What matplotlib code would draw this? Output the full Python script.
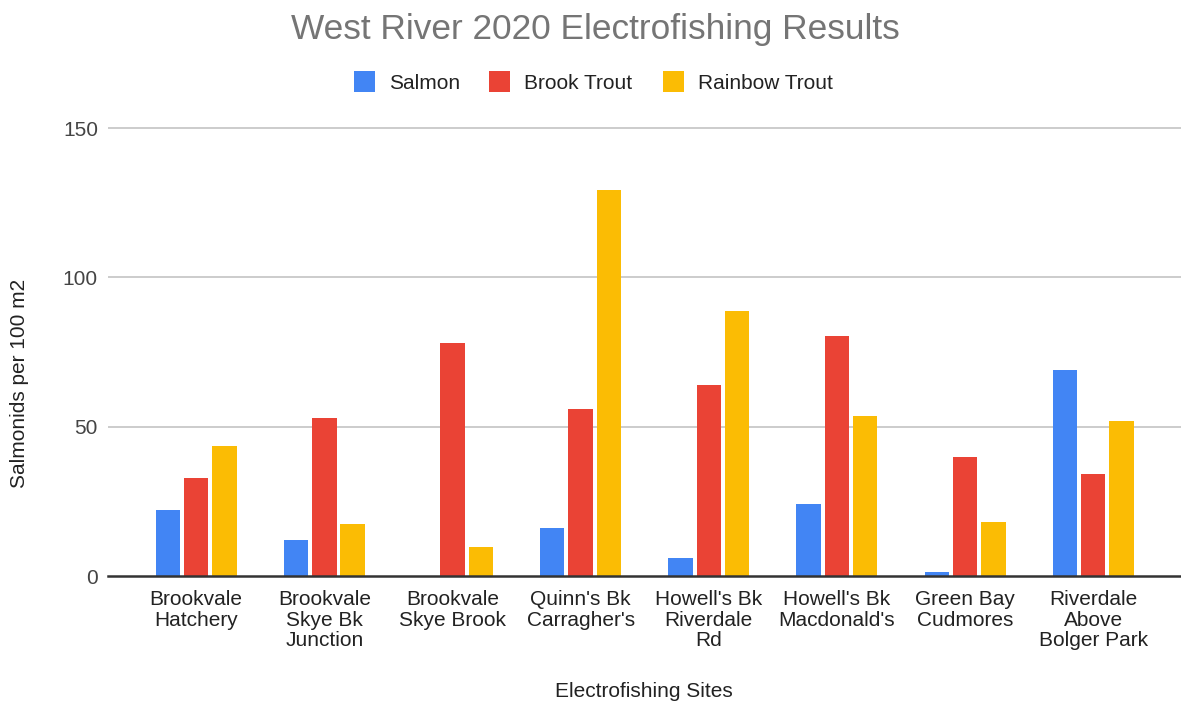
import matplotlib
matplotlib.use("Agg")
import matplotlib.pyplot as plt
import numpy as np
from matplotlib.patches import Rectangle

plt.rcParams['font.family'] = ['Liberation Sans', 'DejaVu Sans']

sites = ["Brookvale\nHatchery", "Brookvale\nSkye Bk\nJunction", "Brookvale\nSkye Brook",
         "Quinn's Bk\nCarragher's", "Howell's Bk\nRiverdale\nRd", "Howell's Bk\nMacdonald's",
         "Green Bay\nCudmores", "Riverdale\nAbove\nBolger Park"]
series_names = ["Salmon", "Brook Trout", "Rainbow Trout"]
salmon = [22, 12, 0, 16.2, 6.1, 24, 1.2, 69]
brook_trout = [32.8, 53, 78, 56, 63.8, 80.5, 40, 34]
rainbow_trout = [43.6, 17.3, 9.6, 129.2, 88.7, 53.6, 18, 51.8]
yticks = [0, 50, 100, 150]
colors = ["#4285F4", "#EA4335", "#FBBC04"]

W, H = 1181, 704
fig = plt.figure(figsize=(W / 100, H / 100), dpi=100)

def fx(px):
    return px / W

def fy(py):
    return 1 - py / H

ax_left, ax_right = 108, 1181
ax_top, ax_bot = 118, 576
ax = fig.add_axes([fx(ax_left), fy(ax_bot), fx(ax_right - ax_left), (ax_bot - ax_top) / H])

px_per_unit = (576 - 128) / 150.0
c0, step = 196.2, 128.14
ax.set_xlim((ax_left - c0) / step, 7 + (ax_right - (c0 + 7 * step)) / step)
ax.set_ylim(0, 150 + (128 - ax_top) / px_per_unit)

x = np.arange(len(sites))
bw = 0.19
off = 0.221
for i, (vals, col) in enumerate(zip([salmon, brook_trout, rainbow_trout], colors)):
    ax.bar(x + (i - 1) * off, vals, width=bw, color=col, zorder=2, linewidth=0)

for t in yticks[1:]:
    ax.axhline(t, color="#CCCCCC", linewidth=1.4, zorder=1)
ax.axhline(0, color="#333333", linewidth=1.8, zorder=3, clip_on=False)

for s in ax.spines.values():
    s.set_visible(False)

ax.set_yticks(yticks)
ax.set_yticklabels([str(t) for t in yticks])
ax.tick_params(axis='y', length=0, pad=7.2, labelsize=15, labelcolor="#444444")
ax.set_xticks(x)
ax.set_xticklabels(sites, linespacing=1.08)
ax.tick_params(axis='x', length=0, pad=10.3, labelsize=15, labelcolor="#222222")

# Title
fig.text(fx(595), fy(39), "West River 2020 Electrofishing Results", ha='center', va='baseline',
         fontsize=25.4, color="#757575")

# Legend
sq_x = [353.5, 489, 663]
for name, col, sx in zip(series_names, colors, sq_x):
    fig.patches.append(Rectangle((fx(sx), fy(92)), fx(21), 21.5 / H, transform=fig.transFigure,
                                 facecolor=col, edgecolor='none'))
    fig.text(fx(sx + 35.5), fy(89), name, ha='left', va='baseline', fontsize=15, color="#222222")

# Axis labels
fig.text(fx(644), fy(697), "Electrofishing Sites", ha='center', va='baseline', fontsize=15, color="#222222")
fig.text(fx(20), fy(383), "Salmonids per 100 m2", ha='center', va='center', rotation=90,
         fontsize=15, color="#222222")

fig.savefig("out.png", dpi=100)
